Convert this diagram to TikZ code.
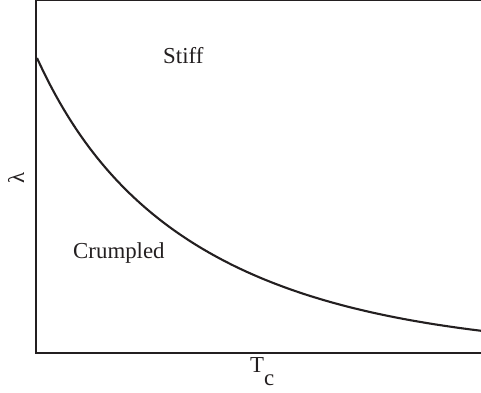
\documentclass[tikz,border=0pt]{standalone}
\usepackage{fontspec}
\setmainfont{Liberation Serif}
\definecolor{figK}{HTML}{231F20}

\begin{document}
\begin{tikzpicture}[x=0.03cm,y=-0.03cm,
  lbl/.style={inner sep=0pt,text=figK,font=\fontsize{19.5}{22}\selectfont}]
\useasboundingbox (0,0) rectangle (481,392);
\coordinate (o) at (36,353);
\coordinate (ytop) at (36,0);
\coordinate (xend) at (481,353);
\coordinate (tend) at (481,0);
\draw[line width=2.4pt,figK] (ytop) -- (o) -- (xend);
\draw[line width=2.4pt,figK] (ytop) -- (tend);
% transition line lambda(T_c)
\draw[line width=1.8pt,figK,domain=0:444,samples=120,smooth] plot
  (\x+37,{353-(40*exp(-0.02*\x)+255*exp(-0.0055*\x))});
\node[lbl,anchor=base west] (stiff) at (163,63) {Stiff};
\node[lbl,anchor=base west] (crumpled) at (73,258) {Crumpled};
\node[lbl,anchor=base west] (tc) at (250,372) {T\raisebox{-0.58em}{c}};
\node[lbl,rotate=90] (lam) at (16,178) {λ};
\end{tikzpicture}
\end{document}
